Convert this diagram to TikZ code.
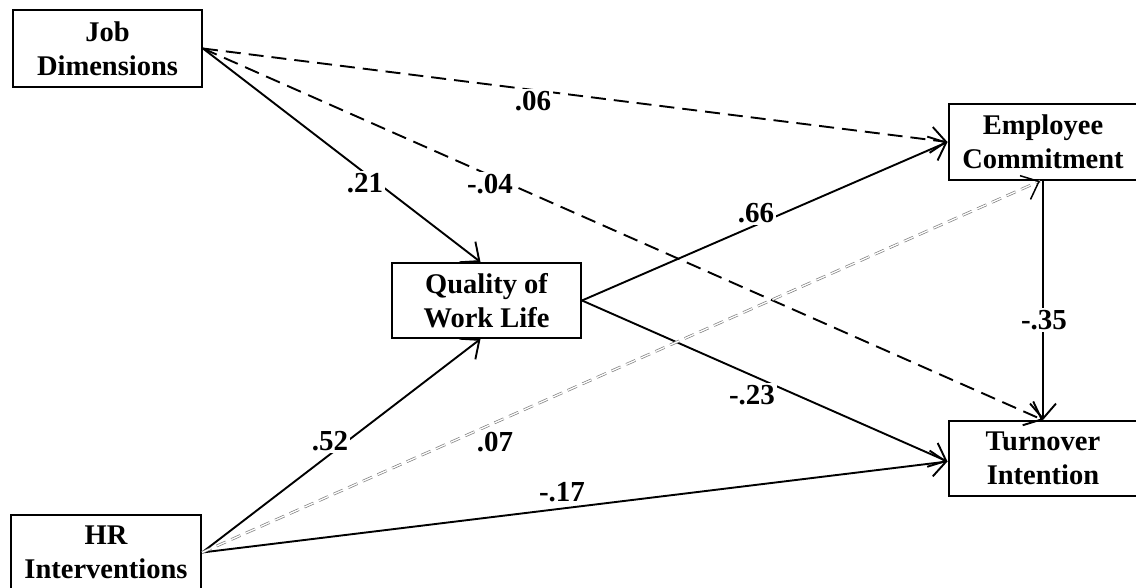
\documentclass[tikz,border=0pt]{standalone}
\usepackage{fontspec}
\setmainfont{Liberation Serif}
\usetikzlibrary{arrows.meta,calc}
\begin{document}
\begin{tikzpicture}[x=1pt,y=-1pt,
  box/.style={draw, line width=2pt, rectangle, minimum width=189pt, minimum height=76pt, inner sep=0pt, align=center, font=\fontsize{28.5}{34}\selectfont\bfseries},
  conn/.style={line width=1.9pt, -{Straight Barb[length=15pt,width=26pt]}},
  dsh/.style={conn, dash pattern=on 15pt off 8pt},
  dbl/.style={draw=gray, line width=0.7pt, double=white, double distance=1.3pt, dash pattern=on 10pt off 6pt},
  tiponly/.style={line width=1.5pt, -{Straight Barb[length=15pt,width=26pt]}, dash pattern=on 0pt off 3000pt},
  lbl/.style={fill=white, inner sep=2pt, font=\fontsize{29}{34}\selectfont\bfseries},
]
\useasboundingbox (0,0) rectangle (1136,588);
\fill[white] (0,0) rectangle (1136,588);

\node[box, minimum height=77pt] (jd) at (107.5,48.5) {Job\\Dimensions};
\node[box, minimum height=75pt] (qwl) at (486.5,300.5) {Quality of\\Work Life};
\node[box] (ec) at (1043,142) {Employee\\Commitment};
\node[box, minimum height=75pt] (ti) at (1043,458.5) {Turnover\\Intention};
\node[box, minimum width=190pt, minimum height=75pt] (hr) at (106,552.5) {HR\\Interventions};

% connectors
\draw[conn] (jd.east) -- ($(qwl.north)+(-6,0)$);
\draw[dsh] (jd.east) -- (ec.west);
\draw[dsh] (jd.east) -- (ti.north);
\draw[conn] (qwl.east) -- (ec.west);
\draw[conn] (qwl.east) -- ($(ti.west)+(0,3)$);
\draw[conn] (ec.south) -- (ti.north);
\draw[conn] (hr.east) -- ($(qwl.south)+(-6,0)$);
\draw[conn] (hr.east) -- ($(ti.west)+(0,3)$);
\draw[dbl] (hr.east) -- ($(ec.south)+(-3,0)$);
\draw[tiponly] (hr.east) -- ($(ec.south)+(-3,0)$);

% labels
\node[lbl] (l06) at (533,101) {.06};
\node[lbl] (l21) at (365,183) {.21};
\node[lbl] (l04) at (490,184) {-.04};
\node[lbl] (l66) at (756,213) {.66};
\node[lbl] (l35) at (1044,320) {-.35};
\node[lbl] (l23) at (752,395) {-.23};
\node[lbl] (l52) at (330,441) {.52};
\node[lbl] (l07) at (495,442) {.07};
\node[lbl] (l17) at (562,492) {-.17};
\end{tikzpicture}
\end{document}
